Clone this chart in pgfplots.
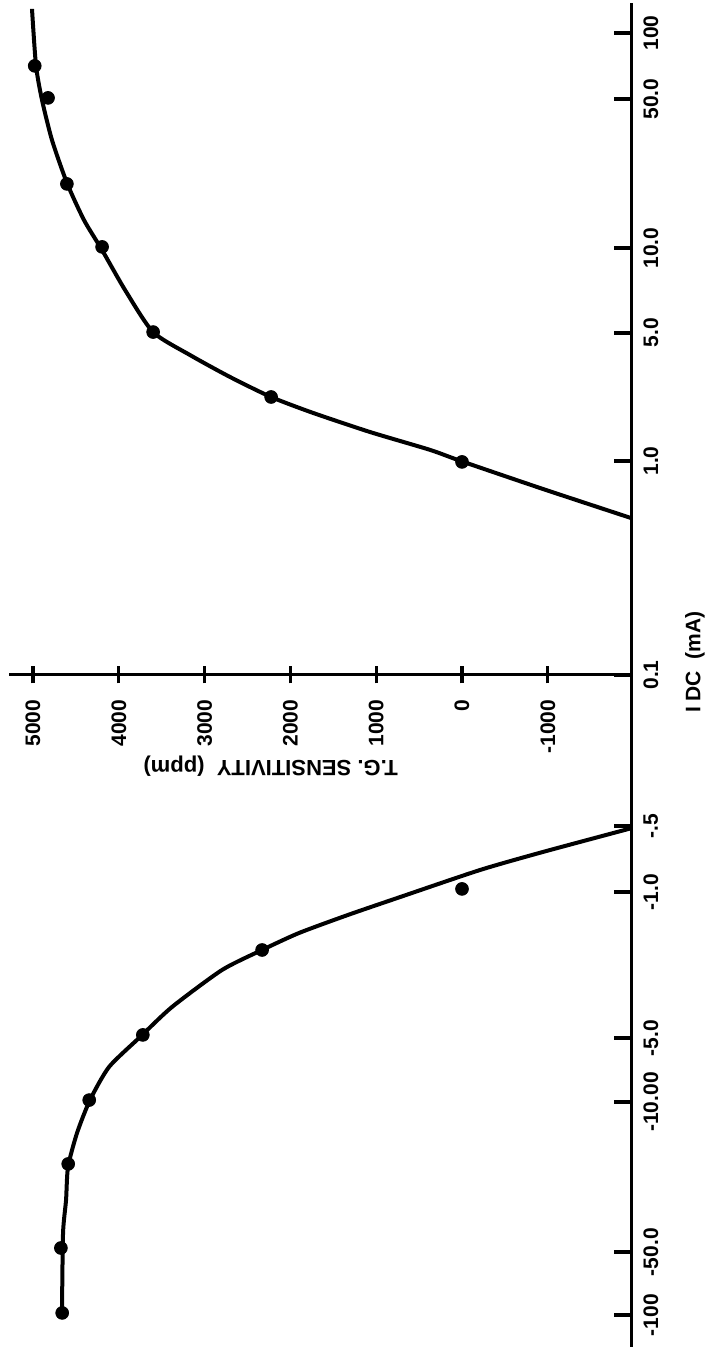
\documentclass[border=0pt]{standalone}
\usepackage{fontspec}
\setmainfont{Liberation Sans}
\usepackage{pgfplots}
\pgfplotsset{compat=1.18}

% position along the current axis: 0.1 mA at 0, one decade per unit,
% negative currents mirrored below (as drawn in the figure)
\pgfplotstableread{
pos   ppm
2.833 4980
2.684 4825
2.284 4605
1.991 4195
1.595 3600
1.293 2225
0.991 0
}\posdata
\pgfplotstableread{
pos    ppm
-0.995 0
-1.279 2330
-1.674 3720
-1.977 4345
-2.274 4590
-2.665 4675
-2.967 4660
}\negdata

\begin{document}
\begin{tikzpicture}[font=\fontsize{10.5}{12}\selectfont\bfseries]
\begin{axis}[
    scale only axis,
    width=311pt, height=671.875pt,
    x dir=reverse,
    xmin=-1970, xmax=5280,
    ymin=-3.125, ymax=3.125,
    axis x line=middle,
    axis y line=right,
    axis line style={-, line width=1.5pt},
    hide obscured x ticks=false,
    hide obscured y ticks=false,
    xtick={5000,4000,3000,2000,1000,0,-1000},
    xticklabels={5000,4000,3000,2000,1000,0,-1000},
    ytick={2.986,2.679,1.986,1.591,0.995,0,-0.702,-1.009,-1.688,-1.986,-2.684,-2.977},
    yticklabels={100,50.0,10.0,5.0,1.0,0.1,-.5,-1.0,-5.0,-10.00,-50.0,-100},
    xtick align=center,
    ytick align=inside,
    major tick length=8.5pt,
    tick style={line width=1.6pt, black},
    xticklabel style={yshift=-8pt, rotate=90, anchor=east, inner sep=0pt},
    yticklabel style={xshift=6pt, rotate=90, anchor=north, inner sep=0pt},
    clip=false,
]
\coordinate (ll) at (axis cs:5280,-3.125);
\coordinate (ur) at (axis cs:-1970,3.125);

% fitted curves
\addplot[black, line width=2pt, smooth, tension=0.4] coordinates {
  (5012,3.098) (4965,2.833) (4895,2.674) (4779,2.488) (4604,2.288)
  (4406,2.116) (4196,1.977) (3928,1.791) (3601,1.595) (3170,1.488)
  (2704,1.386) (2226,1.293) (1737,1.219) (1072,1.130) (373,1.047)
  (12,0.995) (-944,0.865) (-1970,0.730)
};
\addplot[black, line width=2pt, smooth, tension=0.4] coordinates {
  (-1970,-0.713) (-944,-0.823) (-210,-0.907) (723,-1.033) (1329,-1.116)
  (1900,-1.200) (2331,-1.279) (2797,-1.372) (3380,-1.544) (3753,-1.684)
  (4114,-1.823) (4336,-1.977) (4487,-2.130) (4592,-2.288) (4615,-2.442)
  (4650,-2.595) (4662,-2.953)
};

% measured points
\addplot[only marks, mark=*, mark size=3.2pt, black] table[x=ppm, y=pos] {\posdata};
\addplot[only marks, mark=*, mark size=3.2pt, black] table[x=ppm, y=pos] {\negdata};

\node[rotate=180, font=\fontsize{11}{13}\selectfont\bfseries] at (axis cs:2230,-0.426) {T.G. SENSITIVITY\ \ (ppm)};
\node[rotate=90] at (axis cs:-2716,0.06) {I\ DC\ \ (mA)};
\end{axis}
\pgfresetboundingbox
\path ([shift={(-4.5pt,-1.05pt)}]ll) rectangle ([shift={(39pt,1.55pt)}]ur);
\end{tikzpicture}
\end{document}
